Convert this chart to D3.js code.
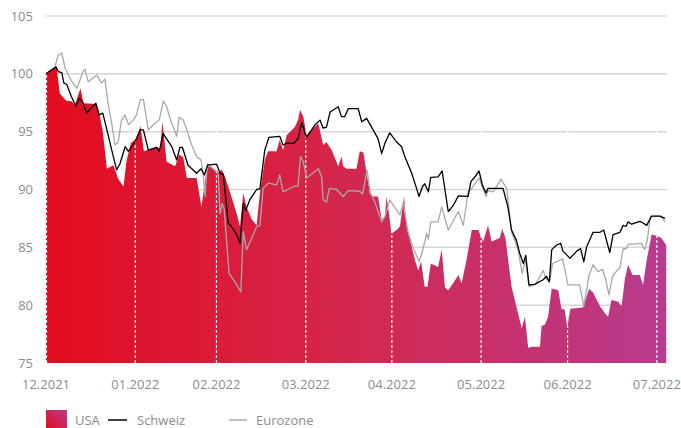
<!DOCTYPE html>
<html><head><meta charset="utf-8">
<script src="https://cdn.jsdelivr.net/npm/d3@7"></script>
<style>
html,body{margin:0;padding:0;background:#fff;}
svg{display:block;font-family:"Open Sans","Noto Sans",sans-serif;}
</style></head>
<body>
<svg id="chart" width="681" height="428"></svg>
<script>
// x = trading-day index since 1 Dec 2021
const monthLabels = ["12.2021","01.2022","02.2022","03.2022","04.2022","05.2022","06.2022","07.2022"];
const monthStarts = [0, 22, 42, 64, 85.2, 107.2, 128.5, 150.5];
const yTicks = [75, 80, 85, 90, 95, 100, 105];

const usa = [[0,100.0],[2.6,100.6],[3.4,98.3],[4.9,97.7],[6.4,97.6],[7.1,97.3],[8.5,98.75],[9.2,97.45],[12.4,97.4],[13.3,96.3],[14.0,95.0],[15.0,91.8],[16.6,92.1],[17.8,90.9],[19.1,90.25],[19.8,92.4],[20.9,94.0],[22.3,94.4],[23.3,95.5],[24.1,93.3],[27.3,93.7],[28.1,93.5],[28.7,95.85],[29.7,92.4],[31.8,92.0],[32.8,93.0],[33.8,92.8],[34.7,91.0],[37.1,91.0],[38.3,88.5],[38.9,90.0],[39.8,92.3],[41.6,91.6],[42.4,91.5],[43.3,91.7],[44.1,91.1],[45.3,89.8],[47.0,87.9],[47.8,86.8],[48.6,89.7],[49.4,88.5],[50.7,87.4],[51.9,86.9],[52.7,89.7],[53.9,92.55],[54.7,93.3],[56.8,93.3],[57.6,94.3],[58.4,93.4],[59.3,94.7],[61.3,95.4],[62.1,96.0],[62.6,96.9],[63.4,96.3],[64.2,94.7],[65.0,95.0],[67.1,95.7],[68.3,93.85],[69.1,94.1],[70.4,93.4],[72.0,92.0],[72.8,92.85],[73.2,92.0],[74.1,91.8],[76.5,91.8],[77.3,93.3],[78.2,93.2],[79.0,91.4],[79.8,89.7],[80.6,89.4],[81.8,89.4],[82.7,87.4],[83.5,87.65],[83.9,89.4],[84.6,87.65],[85.1,86.2],[86.4,86.5],[87.2,86.8],[88.2,89.4],[88.8,86.8],[90.1,85.05],[90.9,83.9],[91.7,83.0],[92.4,83.8],[93.3,81.6],[94.0,81.6],[94.8,83.6],[96.6,83.3],[97.5,84.8],[98.3,81.5],[99.1,81.3],[100.3,81.9],[101.6,82.6],[102.4,81.9],[103.6,83.9],[104.9,86.5],[106.5,86.5],[107.7,85.5],[108.9,86.9],[109.8,85.5],[111.8,85.8],[112.4,86.6],[113.2,85.8],[114.7,81.6],[116.3,79.3],[117.2,78.0],[118.0,79.0],[118.8,76.3],[119.6,76.4],[121.7,76.4],[122.1,78.2],[122.9,78.3],[123.7,79.0],[124.6,81.45],[126.2,81.3],[127.0,79.7],[127.8,79.6],[128.4,78.1],[129.2,79.7],[132.3,79.8],[133.8,81.4],[134.8,81.1],[136.5,79.9],[137.7,79.3],[138.5,79.0],[139.3,80.45],[141.0,80.3],[141.8,79.9],[142.6,82.2],[143.4,83.5],[144.5,82.6],[146.3,82.6],[147.1,81.75],[148.0,83.9],[149.2,86.1],[150.4,86.0],[151.6,85.8],[152.5,85.35],[152.8,85.2]];

const schweiz = [[0,100.0],[2.5,100.6],[3.0,100.2],[3.9,100.1],[4.4,99.2],[5.1,99.1],[6.3,98.0],[7.4,97.2],[8.2,97.9],[9.0,97.6],[10.0,96.6],[11.0,97.0],[12.3,97.45],[13.1,96.45],[14.0,96.6],[15.0,95.15],[16.2,93.4],[17.4,91.7],[18.2,92.2],[19.5,93.7],[20.3,93.3],[21.9,94.1],[23.2,95.15],[24.0,95.15],[25.2,93.4],[27.3,93.65],[27.9,93.3],[28.9,94.85],[29.3,94.6],[31.0,93.7],[32.2,92.55],[33.0,93.65],[33.6,93.65],[35.0,92.1],[37.1,91.4],[38.2,91.8],[39.0,91.25],[39.8,92.1],[42.0,92.2],[42.9,91.4],[43.7,91.3],[44.9,87.1],[45.7,86.8],[47.0,86.1],[47.8,85.35],[48.6,88.8],[49.2,88.2],[50.2,89.1],[51.9,90.0],[52.7,90.05],[53.9,93.4],[54.9,94.5],[57.6,94.6],[58.4,93.85],[59.3,94.0],[61.1,94.0],[62.1,94.4],[63.0,95.8],[64.2,94.5],[66.3,95.6],[67.5,96.0],[68.3,95.3],[69.1,95.4],[70.0,96.7],[72.0,97.15],[72.8,96.3],[73.6,96.3],[74.5,97.0],[76.9,97.0],[77.8,95.85],[79.0,96.15],[80.6,95.15],[81.8,94.4],[82.7,93.1],[83.5,94.0],[84.7,94.9],[86.4,94.1],[87.6,93.7],[88.4,92.85],[90.1,91.4],[91.3,90.1],[91.9,89.4],[92.7,90.2],[93.3,90.5],[94.2,89.8],[94.8,91.05],[96.6,91.1],[97.6,91.6],[99.1,88.1],[100.3,88.6],[101.6,89.45],[104.0,89.4],[104.7,90.7],[105.7,91.1],[106.7,91.6],[107.5,90.4],[108.4,89.7],[108.9,90.1],[112.6,90.1],[113.8,88.5],[114.7,86.5],[115.9,85.6],[116.7,84.5],[117.6,83.6],[118.2,84.3],[119.0,81.75],[120.4,81.8],[122.5,82.2],[123.3,82.5],[124.0,82.0],[124.6,84.8],[125.8,85.2],[126.8,85.35],[127.4,84.65],[128.3,84.35],[129.1,84.05],[130.7,84.65],[131.7,84.9],[132.5,83.75],[133.2,85.05],[134.8,86.3],[136.5,86.3],[137.4,86.5],[138.9,84.55],[139.7,86.1],[141.4,86.3],[142.2,86.9],[142.9,86.8],[143.4,87.2],[144.3,87.0],[146.3,87.25],[147.1,87.1],[148.0,86.9],[149.2,87.7],[151.2,87.7],[152.5,87.5]];

const eurozone = [[0,100.0],[2.2,100.6],[3.0,101.6],[3.9,101.8],[4.7,100.5],[5.9,99.6],[7.6,98.75],[9.2,100.25],[9.6,100.4],[10.4,99.3],[12.5,99.9],[13.7,99.2],[14.5,99.55],[15.3,97.45],[16.2,95.7],[17.0,93.85],[17.8,94.1],[18.6,96.0],[19.5,96.45],[20.3,95.6],[21.5,96.0],[22.3,96.45],[23.2,97.75],[24.0,97.8],[25.2,95.15],[26.4,95.6],[27.9,96.0],[28.9,97.65],[29.7,97.2],[30.5,96.2],[32.2,94.6],[32.8,96.25],[33.8,96.0],[34.7,95.15],[35.9,93.85],[37.1,92.85],[38.2,92.55],[38.7,91.4],[39.2,89.4],[39.6,91.5],[40.0,92.1],[41.2,91.8],[42.4,91.5],[42.9,87.9],[43.4,88.8],[43.9,88.3],[45.1,82.75],[46.6,82.0],[48.0,81.15],[48.6,86.35],[49.4,84.8],[50.7,85.8],[51.9,86.8],[52.7,86.9],[53.5,90.1],[54.8,90.55],[56.8,90.4],[57.6,91.25],[58.4,89.8],[61.3,90.3],[62.1,90.3],[62.7,92.85],[63.4,92.4],[64.2,91.0],[67.1,91.8],[67.9,91.1],[68.3,89.1],[69.1,88.9],[69.8,90.1],[71.6,90.0],[73.2,89.4],[74.5,89.9],[77.3,89.85],[78.0,89.6],[79.1,91.7],[79.9,89.7],[81.0,88.95],[82.7,87.2],[83.5,87.65],[84.7,89.1],[87.2,87.8],[88.0,88.8],[89.2,86.35],[90.5,84.9],[90.9,84.6],[91.9,83.75],[92.7,84.6],[93.8,86.2],[94.2,85.7],[94.8,87.2],[96.6,87.2],[97.5,88.5],[99.1,86.5],[101.6,88.1],[102.8,86.9],[104.0,89.8],[104.7,90.0],[106.7,91.0],[108.4,89.4],[108.9,89.9],[110.2,89.8],[112.1,90.9],[113.5,90.1],[114.7,86.35],[116.3,84.8],[117.3,82.75],[118.2,83.9],[119.0,81.6],[120.6,81.8],[122.5,83.0],[123.3,82.2],[124.1,82.1],[124.8,83.6],[127.3,84.0],[128.6,81.75],[131.5,81.75],[132.5,79.9],[133.8,82.6],[134.8,83.5],[136.0,82.9],[137.1,83.1],[137.9,82.2],[138.7,80.9],[139.6,82.5],[140.7,83.0],[141.4,83.2],[142.2,84.9],[142.9,84.85],[143.4,85.25],[146.7,85.35],[147.5,84.8],[148.1,85.5],[148.9,87.65],[151.6,87.7],[152.5,87.2]];

const seriesNames = ["USA", "Schweiz", "Eurozone"];

const svg = d3.select("#chart");
const x = d3.scaleLinear().domain([0, 153]).range([46, 667]);
const y = d3.scaleLinear().domain([75, 105]).range([363, 16]);

const defs = svg.append("defs");
const grad = defs.append("linearGradient").attr("id","ag").attr("gradientUnits","userSpaceOnUse")
  .attr("x1", x(0)).attr("x2", x(153)).attr("y1",0).attr("y2",0);
grad.append("stop").attr("offset","0%").attr("stop-color","#e30b1f");
grad.append("stop").attr("offset","50%").attr("stop-color","#d3284e");
grad.append("stop").attr("offset","100%").attr("stop-color","#b83b8e");
const lg = defs.append("linearGradient").attr("id","lg").attr("x1","0").attr("y1","1").attr("x2","1").attr("y2","0");
lg.append("stop").attr("offset","0%").attr("stop-color","#e30b1f");
lg.append("stop").attr("offset","100%").attr("stop-color","#b83b8e");

// grid
svg.append("g").selectAll("line").data(yTicks.filter(d => d > 75)).join("line")
  .attr("x1", x(0)).attr("x2", x(153)).attr("y1", d => y(d)).attr("y2", d => y(d))
  .attr("stroke", "#d6d6d6").attr("stroke-width", 1.5);

// y labels
svg.append("g").selectAll("text").data(yTicks).join("text")
  .attr("x", 33).attr("y", d => y(d)).attr("dy", "0.35em").attr("text-anchor","end")
  .attr("fill","#8c8c8c").attr("font-size", 13).text(d => d);

// area
const area = d3.area().x(d => x(d[0])).y0(y(75)).y1(d => y(d[1])).curve(d3.curveLinear);
svg.append("path").datum(usa).attr("d", area).attr("fill","url(#ag)");

// month dashed lines
svg.append("g").selectAll("line").data(monthStarts).join("line")
  .attr("x1", d => x(d) + (d === 0 ? 0.5 : 0)).attr("x2", d => x(d) + (d === 0 ? 0.5 : 0))
  .attr("y1", y(75)).attr("y2", y(101.5))
  .attr("stroke","#fff").attr("stroke-width",1.2).attr("stroke-dasharray","3,2");

// lines
const line = d3.line().x(d => x(d[0])).y(d => y(d[1]));
svg.append("path").datum(eurozone).attr("d", line).attr("fill","none").attr("stroke","#a9a9a9").attr("stroke-width",1.3).attr("stroke-linejoin","round");
svg.append("path").datum(schweiz).attr("d", line).attr("fill","none").attr("stroke","#000").attr("stroke-width",1.3).attr("stroke-linejoin","round");

// x labels
svg.append("g").selectAll("text").data(monthLabels).join("text")
  .attr("x", (d,i) => x(monthStarts[i])).attr("y", 384).attr("dy","0.35em")
  .attr("text-anchor","middle").attr("fill","#8c8c8c").attr("font-size",13).text(d => d);

// legend
const leg = svg.append("g");
leg.append("rect").attr("x",46).attr("y",410).attr("width",21).attr("height",19).attr("fill","url(#lg)");
leg.append("text").attr("x",75).attr("y",420).attr("dy","0.35em").attr("fill","#8c8c8c").attr("font-size",13).text(seriesNames[0]);
leg.append("line").attr("x1",108).attr("x2",127).attr("y1",420).attr("y2",420).attr("stroke","#000").attr("stroke-width",1.5);
leg.append("text").attr("x",137).attr("y",420).attr("dy","0.35em").attr("fill","#8c8c8c").attr("font-size",13).text(seriesNames[1]);
leg.append("line").attr("x1",229).attr("x2",247).attr("y1",420).attr("y2",420).attr("stroke","#aaa").attr("stroke-width",1.5);
leg.append("text").attr("x",256).attr("y",420).attr("dy","0.35em").attr("fill","#8c8c8c").attr("font-size",13).text(seriesNames[2]);
</script>
</body></html>
